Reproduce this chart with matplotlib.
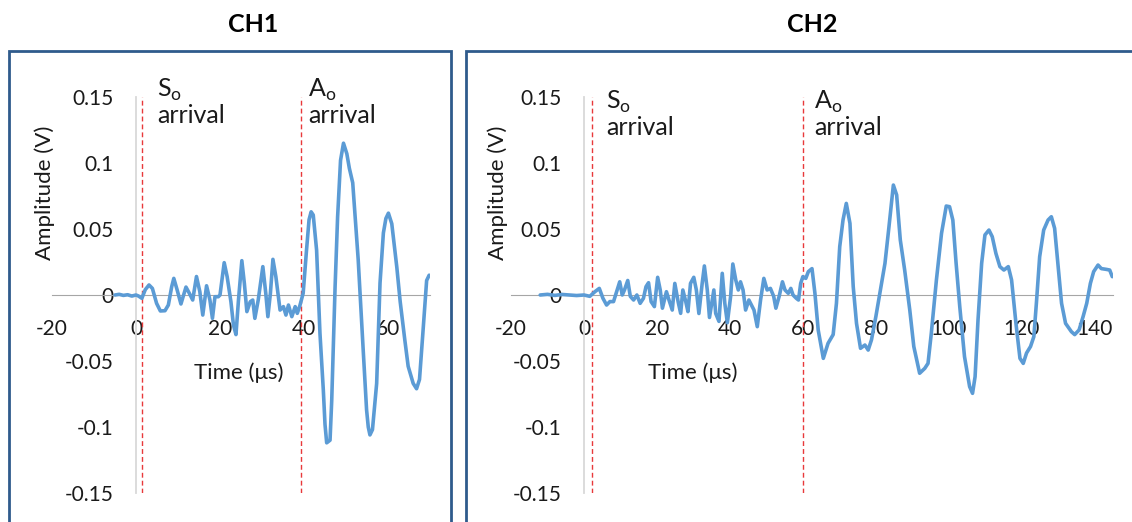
"""
Two-channel Lamb-wave record: CH1 and CH2 amplitude vs time with the
S0 and A0 arrival markers. Writes out.png (1132x522).
"""
import matplotlib
matplotlib.use("Agg")  # headless
import matplotlib.pyplot as plt
from matplotlib.patches import Rectangle

plt.rcParams["font.family"] = ["Lato", "DejaVu Sans"]
plt.rcParams["mathtext.fontset"] = "custom"
plt.rcParams["mathtext.rm"] = "Lato"

W, H = 1132, 522

# --- data ------------------------------------------------------------------
ch1_time = [-5.0, -4.0, -3.0, -2.0, -1.0, 0.0, 0.6, 1.4, 2.2, 3.1, 3.9, 4.9,
            5.8, 6.9, 7.7, 8.5, 9.0, 9.8, 10.7, 11.9, 12.7, 13.5, 14.4, 15.2,
            15.9, 16.8, 17.6, 18.2, 18.8, 19.6, 20.0, 21.0, 21.7, 22.6, 23.2,
            23.8, 24.4, 25.2, 25.8, 26.4, 27.2, 27.8, 28.3, 29.1, 30.2, 30.9,
            31.4, 32.0, 32.6, 33.3, 34.3, 35.1, 35.7, 36.3, 37.1, 37.9, 38.4,
            39.0, 39.8, 40.6, 41.2, 41.7, 42.2, 43.0, 43.8, 44.6, 45.0, 45.4,
            46.2, 46.6, 47.4, 48.0, 48.7, 49.4, 50.2, 50.8, 51.6, 52.9, 54.1,
            54.9, 55.3, 55.7, 56.3, 57.3, 58.1, 58.9, 59.5, 60.1, 60.9, 62.1,
            62.9, 64.0, 64.8, 66.0, 66.8, 67.5, 68.3, 69.2, 69.8]
ch1_amp = [0.0, 0.0005, -0.0003, 0.0002, -0.0008, 0.0, -0.0008, -0.0025,
           0.004, 0.0076, 0.005, -0.0063, -0.0121, -0.0119, -0.0076, 0.0063,
           0.0126, 0.0038, -0.0068, 0.006, 0.0013, -0.0038, 0.014, 0.0025,
           -0.0152, 0.007, -0.0038, -0.0177, -0.0013, -0.0013, 0.0, 0.0245,
           0.0139, -0.0051, -0.0227, -0.030, -0.0038, 0.026, 0.0088, -0.0126,
           -0.0051, -0.0038, -0.0177, -0.0038, 0.0215, 0.0013, -0.0164,
           0.0013, 0.027, 0.0139, -0.0114, -0.0088, -0.0152, -0.0076, -0.0164,
           -0.0088, -0.0139, -0.0083, 0.0013, 0.034, 0.057, 0.063, 0.0606,
           0.034, -0.029, -0.072, -0.098, -0.112, -0.110, -0.080, 0.006, 0.059,
           0.102, 0.115, 0.107, 0.096, 0.085, 0.027, -0.042, -0.087, -0.100,
           -0.106, -0.102, -0.067, 0.009, 0.047, 0.058, 0.062, 0.054, 0.021,
           -0.005, -0.034, -0.054, -0.067, -0.071, -0.064, -0.029, 0.011, 0.015]

ch2_time = [-12.0, -10.0, -8.0, -6.0, -4.0, -2.0, 0.0, 1.6, 3.0, 4.2, 5.2,
            6.2, 7.1, 8.1, 9.1, 9.8, 10.5, 11.1, 12.0, 12.7, 13.6, 14.5, 15.4,
            16.3, 17.0, 17.7, 18.4, 19.3, 20.2, 20.9, 21.5, 22.6, 23.3, 24.2,
            24.9, 25.8, 26.5, 27.1, 27.9, 28.5, 29.2, 30.1, 30.8, 31.5, 32.4,
            33.0, 33.8, 34.4, 35.6, 36.1, 37.0, 37.9, 38.6, 39.3, 40.2, 40.8,
            41.6, 42.3, 42.9, 43.6, 44.3, 45.2, 46.6, 47.5, 48.4, 49.3, 50.2,
            51.1, 52.0, 52.6, 53.5, 54.4, 55.1, 56.0, 56.7, 57.3, 58.2, 58.8,
            59.4, 60.0, 60.8, 61.5, 62.5, 63.3, 64.2, 65.6, 66.9, 68.3, 69.2,
            70.1, 71.0, 71.9, 72.9, 73.8, 74.7, 75.8, 77.0, 77.9, 78.8, 80.0,
            81.1, 82.5, 83.6, 84.8, 85.7, 86.7, 87.9, 89.3, 90.4, 92.0, 93.4,
            94.3, 95.2, 96.6, 98.0, 99.3, 100.2, 101.1, 102.0, 103.0, 104.3,
            105.7, 106.5, 107.2, 108.0, 109.0, 109.9, 111.0, 111.9, 112.9,
            114.0, 115.1, 116.3, 117.2, 118.4, 119.5, 120.4, 121.3, 122.4,
            123.3, 124.0, 124.9, 126.0, 127.2, 128.1, 129.0, 129.9, 130.9,
            132.0, 133.6, 134.5, 135.7, 136.8, 137.8, 138.8, 139.7, 140.9,
            141.8, 143.2, 144.1, 144.8]
ch2_amp = [0.0, 0.0005, -0.0003, 0.0004, 0.0, -0.0004, 0.0, -0.001, 0.0025,
           0.005, -0.0025, -0.0076, -0.005, -0.005, 0.0038, 0.010, 0.0,
           0.0038, 0.011, -0.001, -0.0038, 0.0, -0.0063, -0.0025, 0.0063,
           0.0093, -0.005, -0.0088, 0.0134, 0.0038, -0.010, 0.0025, -0.0038,
           -0.0114, 0.0088, -0.005, -0.0139, 0.0038, -0.005, -0.0126, 0.0088,
           0.0134, 0.0038, -0.014, 0.0088, 0.022, 0.0038, -0.017, 0.0038,
           -0.0139, -0.020, 0.0164, -0.0063, -0.021, -0.001, 0.0235, 0.0114,
           0.0038, 0.010, 0.0038, -0.0114, -0.0038, -0.0114, -0.024, -0.0038,
           0.0126, 0.0038, 0.005, -0.001, -0.010, -0.001, 0.010, 0.0038,
           0.0013, 0.005, 0.0, -0.0025, -0.0038, 0.0088, 0.0139, 0.0126,
           0.0177, 0.020, 0.0013, -0.0265, -0.048, -0.0366, -0.030, -0.0063,
           0.0366, 0.0568, 0.0694, 0.0543, 0.0063, -0.0215, -0.0404, -0.0379,
           -0.0417, -0.034, -0.0164, 0.0013, 0.024, 0.0518, 0.0833, 0.0758,
           0.0417, 0.0189, -0.0114, -0.039, -0.0593, -0.0556, -0.0518, -0.029,
           0.0114, 0.0467, 0.0674, 0.0669, 0.0568, 0.024, -0.0088, -0.0467,
           -0.0694, -0.0745, -0.0619, -0.019, 0.024, 0.0455, 0.0492, 0.0442,
           0.0316, 0.0215, 0.0189, 0.0215, 0.0114, -0.0215, -0.048, -0.0518,
           -0.044, -0.039, -0.0316, -0.0063, 0.029, 0.0492, 0.0568, 0.0593,
           0.0505, 0.024, -0.0063, -0.0215, -0.0278, -0.030, -0.0265, -0.0164,
           -0.0063, 0.0088, 0.0177, 0.0227, 0.020, 0.0194, 0.0189, 0.0139]

ch1_arrivals = [1.4, 39.3]      # S0, A0 (us)
ch2_arrivals = [2.2, 60.0]
y_ticks = [-0.15, -0.1, -0.05, 0, 0.05, 0.1, 0.15]
y_labels = ["-0.15", "-0.1", "-0.05", "0", "0.05", "0.1", "0.15"]
ch1_xticks = [-20, 0, 20, 40, 60]
ch2_xticks = [-20, 0, 20, 40, 60, 80, 100, 120, 140]

BLUE = "#5b9bd5"
RED = "#e8393b"
FRAME = "#2f5b8c"
INK = "#1a1a1a"


def px_box(x0, x1, y_top, y_bot):
    """Figure-fraction rect from pixel edges."""
    return [x0 / W, 1 - y_bot / H, (x1 - x0) / W, (y_bot - y_top) / H]


def draw_channel(fig, rect, t, a, xlim, xticks, arrivals, label_x, baselines):
    ax = fig.add_axes(rect)
    ax.plot(t, a, color=BLUE, lw=2.6, solid_joinstyle="round",
            solid_capstyle="round", zorder=3)
    ax.set_xlim(*xlim)
    ax.set_ylim(-0.15, 0.15)

    for side in ("top", "right"):
        ax.spines[side].set_visible(False)
    ax.spines["bottom"].set_position(("data", 0))
    ax.spines["left"].set_position(("data", 0))
    ax.spines["bottom"].set_color("#a6a6a6")
    ax.spines["left"].set_color("#d9d9d9")
    ax.spines["left"].set_linewidth(1.3)

    ax.set_xticks(xticks)
    ax.set_xticklabels([str(v) for v in xticks])
    ax.set_yticks(y_ticks)
    ax.set_yticklabels(y_labels)
    ax.tick_params(axis="x", length=0, pad=17, labelsize=15, labelcolor=INK)
    ax.tick_params(axis="y", length=0, pad=16, labelsize=15, labelcolor=INK)
    ax.patch.set_visible(False)

    ax.vlines(arrivals, -0.15, 0.15, colors=RED, lw=1,
              linestyles=(0, (3.5, 2.2)), zorder=2)
    top_y, low_y = baselines
    for mode, tx in zip(["S", "A"], label_x):
        ax.text(tx, top_y, mode + r"$_\mathrm{o}$", fontsize=18,
                va="baseline", ha="left", color=INK)
        ax.text(tx, low_y, "arrival", fontsize=18,
                va="baseline", ha="left", color=INK)
    return ax


def main():
    fig = plt.figure(figsize=(W / 100, H / 100), dpi=100)

    # CH1: -20..70 us over x px 52..430, +-0.15 V over y px 97..493
    draw_channel(fig, px_box(52, 430, 97, 493), ch1_time, ch1_amp, (-20, 70),
                 ch1_xticks, ch1_arrivals, [5, 41], (0.150, 0.1303))
    # CH2: -20..145 us over x px 511..1113
    draw_channel(fig, px_box(511, 1113, 97, 493), ch2_time, ch2_amp, (-20, 145),
                 ch2_xticks, ch2_arrivals, [6, 63], (0.1409, 0.1212))

    for cx, name in [(253, "CH1"), (812, "CH2")]:
        fig.text(cx / W, 1 - 25 / H, name, ha="center", va="center",
                 fontsize=18, fontweight="bold")
    for cx in (45, 498):
        fig.text(cx / W, 1 - 193 / H, "Amplitude (V)", rotation=90,
                 ha="center", va="center", fontsize=16, color=INK)
    for cx in (239, 693):
        fig.text(cx / W, 1 - 373 / H, "Time (μs)", ha="center", va="center",
                 fontsize=16, color=INK)

    # chart-area frames, bottom edge runs off the picture
    for x0, x1 in [(9, 451), (466, 1145)]:
        fig.patches.append(Rectangle((x0 / W, -0.1), (x1 - x0) / W, 1.1 - 51 / H,
                                     transform=fig.transFigure, fill=False,
                                     ec=FRAME, lw=2))

    fig.savefig("out.png", dpi=100, facecolor="white")
    plt.close(fig)


if __name__ == "__main__":
    main()
